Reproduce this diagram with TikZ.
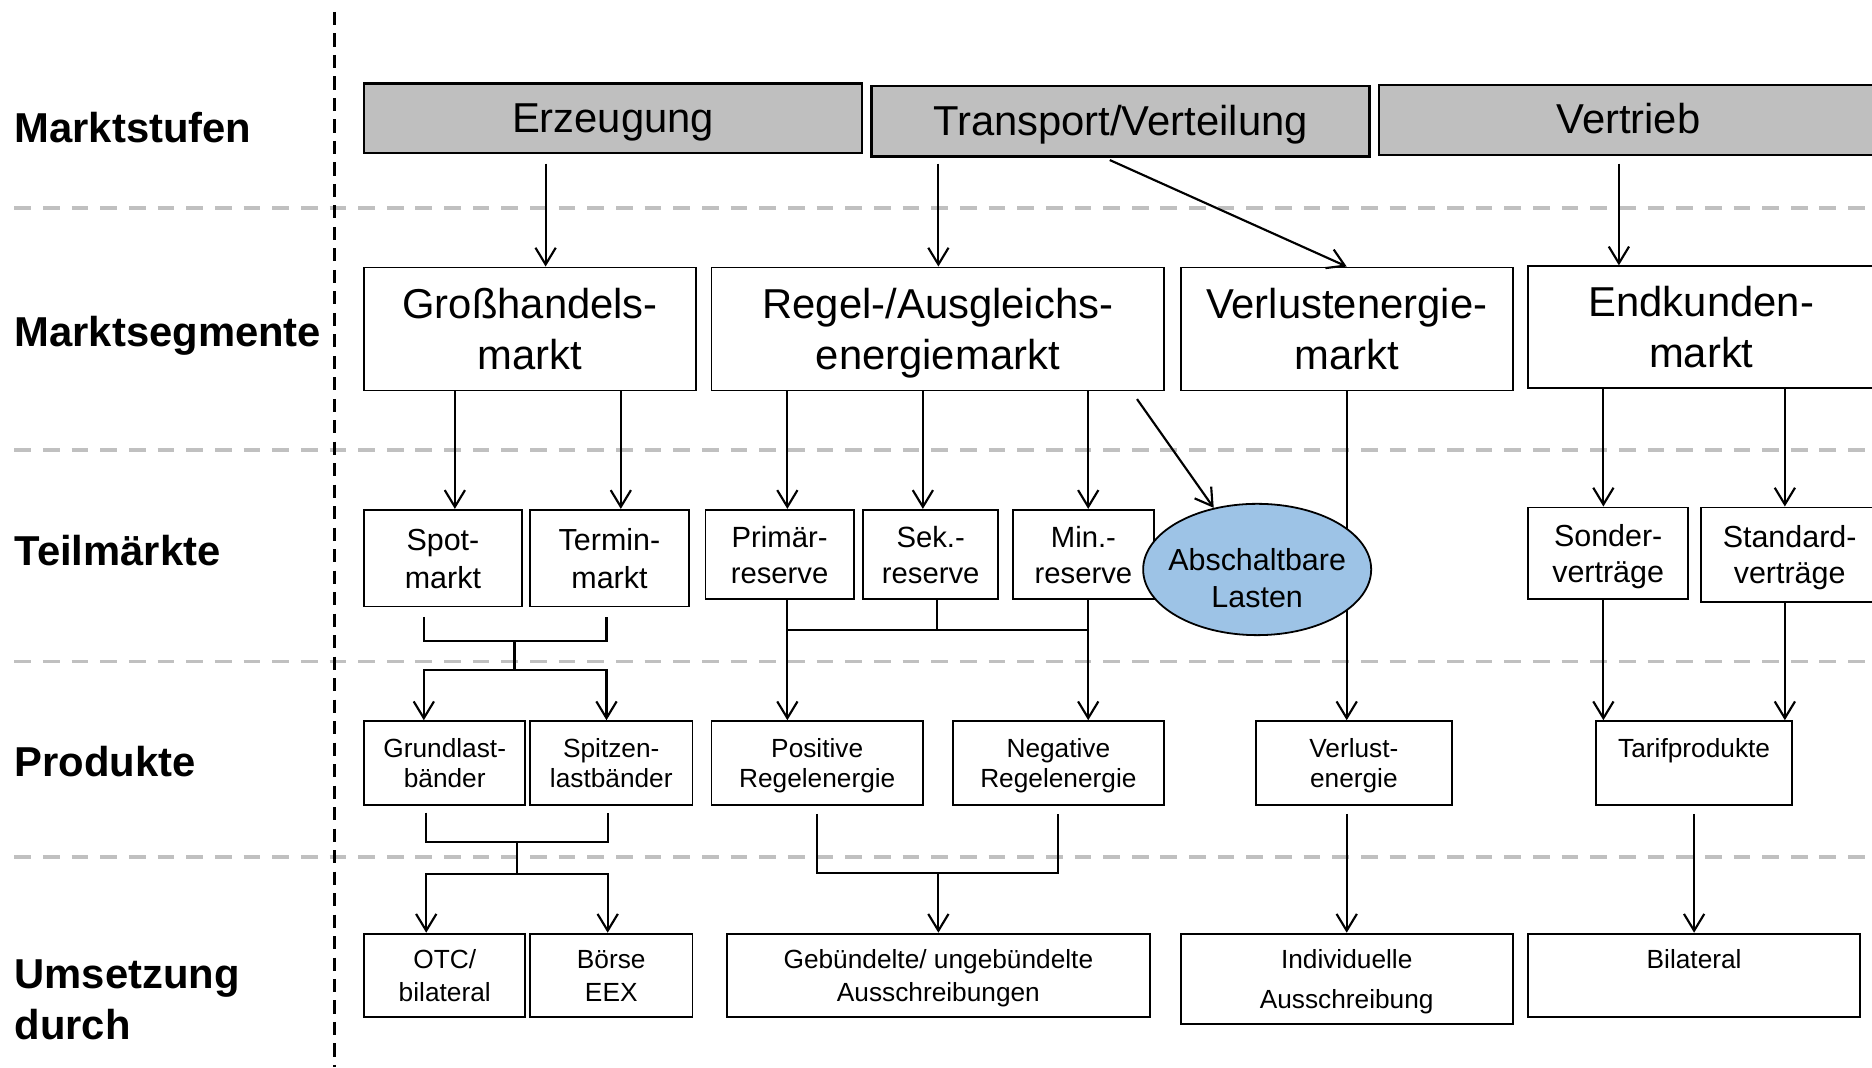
\documentclass[tikz,border=0pt]{standalone}
\usepackage{fontspec}
\setmainfont{Liberation Sans}
\usetikzlibrary{arrows.meta,shapes.geometric}
\definecolor{topgray}{RGB}{191,191,191}
\definecolor{linegray}{RGB}{192,192,192}
\definecolor{ellblue}{RGB}{157,195,230}
\newcommand\twol[2]{\rule{0pt}{0.93em}#1\\#2\rule[-0.21em]{0pt}{0.21em}}
\newcommand\onel[1]{\rule{0pt}{0.88em}#1\rule[-0.21em]{0pt}{0.21em}}
\begin{document}
\begin{tikzpicture}[x=1pt,y=-1pt,
  box/.style={draw=black, line width=1.5pt, align=center, inner sep=0pt, fill=white},
  topbox/.style={box, fill=topgray, line width=2pt, font=\fontsize{35}{43}\selectfont},
  segbox/.style={box, font=\fontsize{35}{43}\selectfont},
  teilbox/.style={box, font=\fontsize{25.5}{32}\selectfont},
  vtbox/.style={box, font=\fontsize{25.5}{30}\selectfont},
  resbox/.style={box, font=\fontsize{24.5}{30}\selectfont},
  prodbox/.style={box, font=\fontsize{22}{25.5}\selectfont},
  umbox/.style={box, font=\fontsize{22}{27.5}\selectfont},
  rowlabel/.style={inner sep=0pt, font=\fontsize{35}{42}\selectfont\bfseries, align=left},
  sep/.style={draw=linegray, line width=3pt, dash pattern=on 14pt off 10pt},
  arr/.style={line width=1.8pt, -{Straight Barb[length=14pt,width=17pt]}},
  ln/.style={line width=1.8pt}
]
\useasboundingbox (0,0) rectangle (1568,894);

% row separators
\foreach \yy in {174,377,554,718} \draw[sep] (12,\yy) -- (1568,\yy);
% vertical divider
\draw[line width=2.4pt, dash pattern=on 11pt off 7pt] (280,10) -- (280,894);

% row labels
\node[rowlabel, anchor=base west] (l1) at (12,119) {Marktstufen};
\node[rowlabel, anchor=base west] (l2) at (12,290) {Marktsegmente};
\node[rowlabel, anchor=base west] (l3) at (12,474) {Teilmärkte};
\node[rowlabel, anchor=base west] (l4) at (12,650) {Produkte};
\node[rowlabel, anchor=north west] (l5) at (12,804) {Umsetzung\\durch};

% Marktstufen
\node[topbox, minimum width=417pt, minimum height=58pt] (erz) at (513.5,99) {\onel{Erzeugung}};
\node[topbox, minimum width=417pt, minimum height=59pt] (trans) at (938.5,101.5) {\onel{Transport/Verteilung}};
\node[topbox, minimum width=418pt, minimum height=59pt] (vert) at (1364,100.5) {\onel{Vertrieb}};

% Marktsegmente
\node[segbox, minimum width=278pt, minimum height=103pt] (gross) at (444,275.5) {\twol{Großhandels-}{markt}};
\node[segbox, minimum width=379pt, minimum height=103pt] (regel) at (785.5,275.5) {\twol{Regel-/Ausgleichs-}{energiemarkt}};
\node[segbox, minimum width=278pt, minimum height=103pt] (verlm) at (1128,275.5) {\twol{Verlustenergie-}{markt}};
\node[segbox, minimum width=290pt, minimum height=102pt] (endk) at (1425,274) {\twol{Endkunden-}{markt}};

% Teilmaerkte
\node[teilbox, minimum width=132pt, minimum height=81pt] (spot) at (371,467.5) {\twol{Spot-}{markt}};
\node[teilbox, minimum width=133pt, minimum height=81pt] (termin) at (510.5,467.5) {\twol{Termin-}{markt}};
\node[resbox, minimum width=124pt, minimum height=75pt] (prim) at (653,464.5) {\twol{Primär-}{reserve}};
\node[resbox, minimum width=113pt, minimum height=75pt] (sek) at (779.5,464.5) {\twol{Sek.-}{reserve}};
\node[resbox, minimum width=118pt, minimum height=75pt] (minr) at (907.5,464.5) {\twol{Min.-}{reserve}};
\node[vtbox, minimum width=134pt, minimum height=77pt] (sonder) at (1347,463.5) {\twol{Sonder-}{verträge}};
\node[vtbox, minimum width=148pt, minimum height=79pt] (standard) at (1499,464.5) {\twol{Standard-}{verträge}};

% Produkte
\node[prodbox, minimum width=135pt, minimum height=70pt] (grund) at (372.5,639) {\twol{Grundlast-}{bänder}};
\node[prodbox, minimum width=136pt, minimum height=70pt] (spitz) at (512,639) {\twol{Spitzen-}{lastbänder}};
\node[prodbox, minimum width=177pt, minimum height=70pt] (pos) at (684.5,639) {\twol{Positive}{Regelenergie}};
\node[prodbox, minimum width=177pt, minimum height=70pt] (neg) at (886.5,639) {\twol{Negative}{Regelenergie}};
\node[prodbox, minimum width=164pt, minimum height=70pt] (verle) at (1134,639) {\twol{Verlust-}{energie}};
\node[prodbox, minimum width=164pt, minimum height=70pt] (tarif) at (1419,639) {\twol{Tarifprodukte}{\mbox{}}};

% Umsetzung
\node[umbox, minimum width=135pt, minimum height=70pt] (otc) at (372.5,817) {\twol{OTC/}{bilateral}};
\node[umbox, minimum width=136pt, minimum height=70pt] (boerse) at (512,817) {\twol{Börse}{EEX}};
\node[umbox, minimum width=354pt, minimum height=70pt] (geb) at (786,817) {\twol{Gebündelte/ ungebündelte}{Ausschreibungen}};
\node[box, font=\fontsize{22}{33}\selectfont, minimum width=278pt, minimum height=76pt] (indiv) at (1128,820) {\twol{Individuelle}{Ausschreibung}};
\node[umbox, minimum width=278pt, minimum height=70pt] (bilat) at (1419,817) {\twol{Bilateral}{\mbox{}}};

% helper x positions
\coordinate (x457) at (457,0);
\coordinate (x786) at (786,0);
\coordinate (x1356) at (1356,0);
\coordinate (x381) at (381,0);
\coordinate (x520) at (520,0);
\coordinate (xp) at (659.5,0);
\coordinate (xs) at (773,0);
\coordinate (xm) at (911.5,0);
\coordinate (xso) at (1343,0);
\coordinate (xst) at (1495,0);
\coordinate (xv) at (1128,0);

% Marktstufen -> Marktsegmente
\draw[arr, shorten <=8pt] (erz.south -| x457) -- (gross.north -| x457);
\draw[arr, shorten <=5pt] (trans.south -| x786) -- (regel.north -| x786);
\draw[arr, shorten <=5pt] ([xshift=-13.5pt]trans.south) -- (verlm.north);
\draw[arr, shorten <=6pt] (vert.south -| x1356) -- (endk.north -| x1356);

% Marktsegmente -> Teilmaerkte
\draw[arr] (gross.south -| x381) -- (spot.north -| x381);
\draw[arr] (gross.south -| x520) -- (termin.north -| x520);
\draw[arr] (regel.south -| xp) -- (prim.north -| xp);
\draw[arr] (regel.south -| xs) -- (sek.north -| xs);
\draw[arr] (regel.south -| xm) -- (minr.north -| xm);
\draw[arr] (endk.south -| xso) -- (sonder.north -| xso);
\draw[arr] (endk.south -| xst) -- (standard.north -| xst);
\draw[arr] (verlm.south -| xv) -- (verle.north -| xv);

% ellipse drawn over the long line
\node[draw=black, line width=1.5pt, fill=ellblue, ellipse, inner xsep=-8pt, inner ysep=0pt,
      minimum width=191pt, minimum height=110pt, align=center,
      font=\fontsize{25.5}{31}\selectfont] (absch) at (1053,477) {\rule{0pt}{33pt}Abschaltbare\\Lasten};
\draw[arr, shorten <=8pt] ([xshift=-28pt]regel.south east) -- (absch);

% Teilmaerkte -> Produkte
\coordinate (b1) at (431,537);
\coordinate (b2) at (431,561);
\draw[ln] ([xshift=-16pt,yshift=-8pt]spot.south) |- (b1) -| ([xshift=-2.5pt,yshift=-8pt]termin.south);
\draw[ln] (b1) -- (b2);
\draw[arr] (b2) -| ([xshift=-17.5pt]grund.north);
\draw[arr] (b2) -| ([xshift=-4pt]spitz.north);

\coordinate (r1) at (785,528);
\draw[arr] (prim.south -| xp) -- (pos.north -| xp);
\draw[arr] (minr.south -| xm) -- (neg.north -| xm);
\draw[ln] (r1 -| xp) -- (r1 -| xm);
\draw[ln] (sek.south -| r1) -- (r1);

\draw[arr] (sonder.south -| xso) -- (tarif.north -| xso);
\draw[arr] (standard.south -| xst) -- (tarif.north -| xst);

% Produkte -> Umsetzung
\coordinate (b3) at (433,705);
\coordinate (b4) at (433,732);
\draw[ln] ([xshift=-15.5pt,yshift=-6pt]grund.south) |- (b3) -| ([xshift=-3pt,yshift=-6pt]spitz.south);
\draw[ln] (b3) -- (b4);
\draw[arr] (b4) -| ([xshift=-15.5pt]otc.north);
\draw[arr] (b4) -| ([xshift=-3pt]boerse.north);

\coordinate (b5) at (786,731);
\draw[ln] ([yshift=-7pt]pos.south) |- (b5) -| ([yshift=-7pt]neg.south);
\draw[arr] (b5) -- (geb.north);

\draw[arr] ([xshift=-6pt,yshift=-7pt]verle.south) -- (indiv.north);
\draw[arr] ([yshift=-7pt]tarif.south) -- (bilat.north);
\end{tikzpicture}
\end{document}
